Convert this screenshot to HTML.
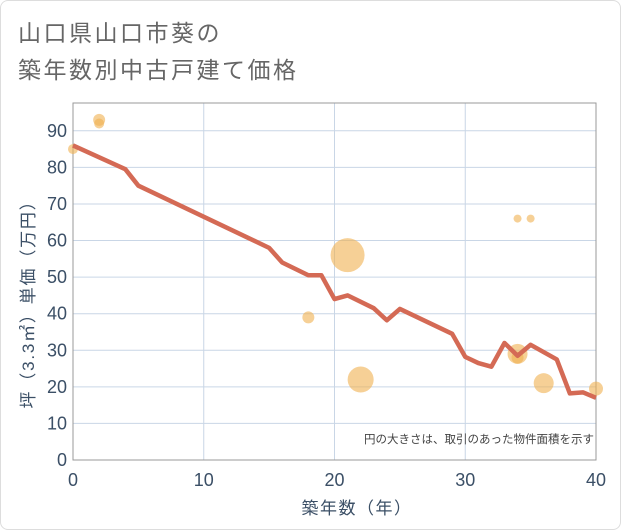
<!DOCTYPE html>
<html><head><meta charset="utf-8"><style>
body{margin:0;background:#fff;}
.card{position:absolute;left:0;top:0;width:619px;height:528px;border:1px solid #ddd;border-radius:8px;background:#fff;}
svg{position:absolute;left:0;top:0;font-family:"Liberation Sans","Noto Sans CJK JP",sans-serif;}
</style></head><body>
<div class="card"></div>
<svg id="c" width="621" height="530">
<text x="18" y="41" font-size="23" letter-spacing="2.5" fill="#666">山口県山口市葵の</text>
<text x="18" y="78" font-size="23" letter-spacing="2.5" fill="#666">築年数別中古戸建て価格</text>
<g id="grid"></g><g id="bub"></g><g id="ln"></g>
<text x="594" y="443" font-size="11.5" fill="#444" text-anchor="end">円の大きさは、取引のあった物件面積を示す</text>
<text x="357" y="514" font-size="17" letter-spacing="1.5" fill="#3b4f66" text-anchor="middle">築年数（年）</text>
<text transform="translate(34,300) rotate(-90)" font-size="17" letter-spacing="1.8" fill="#3b4f66" text-anchor="middle">坪（3.3㎡）単価（万円）</text>
</svg>
<script>
const xTicks=[0,10,20,30,40];
const yTicks=[0,10,20,30,40,50,60,70,80,90];
const lineX=[0,4,5,15,16,18,19,20,21,23,24,25,29,30,31,32,33,34,35,37,38,39,40];
const lineY=[86,79.5,75,58,54,50.5,50.5,44,45,41.5,38.2,41.3,34.5,28.2,26.5,25.5,32,28.5,31.5,27.5,18.2,18.5,17];
const bubX=[0,2,2,18,21,22,34,35,34,34,36,40];
const bubY=[85,93,92,39,56,22,66,66,29,28,21,19.5];
const bubR=[5,6,5,6,17,13,4,4,10,6,10,7];
const L=73,R=596,T=103,B=460;
const sx=v=>L+(R-L)*v/40, sy=v=>B-(B-T)*v/97.6;
const NS="http://www.w3.org/2000/svg";
function mk(t,a,p){const e=document.createElementNS(NS,t);for(const k in a)e.setAttribute(k,a[k]);p.appendChild(e);return e;}
const g=document.getElementById('grid');
xTicks.forEach(v=>{const l=mk('line',{x1:sx(v),x2:sx(v),y1:T,y2:B,stroke:'#c9d6e6'},g);


const t=mk('text',{x:sx(v),y:B+26,'font-size':18,fill:'#3b4f66','text-anchor':'middle'},g);t.textContent=v;

});
yTicks.forEach(v=>{const l=mk('line',{x1:L,x2:R,y1:sy(v),y2:sy(v),stroke:'#c9d6e6'},g);


const t=mk('text',{x:L-6,y:sy(v)+6,'font-size':18,fill:'#3b4f66','text-anchor':'end'},g);t.textContent=v;

});
const f=mk('rect',{x:L,y:T,width:R-L,height:B-T,fill:'none',stroke:'#999'},g);


const b=document.getElementById('bub');
bubX.forEach((x,i)=>{const c=mk('circle',{cx:sx(x),cy:sy(bubY[i]),r:bubR[i],fill:'#f0b050','fill-opacity':0.6},b);

});
const p=mk('polyline',{points:lineX.map((x,i)=>sx(x)+','+sy(lineY[i])).join(' '),fill:'none',stroke:'#d46a55','stroke-width':4.5,'stroke-linejoin':'round'},document.getElementById('ln'));


</script>
</body></html>
